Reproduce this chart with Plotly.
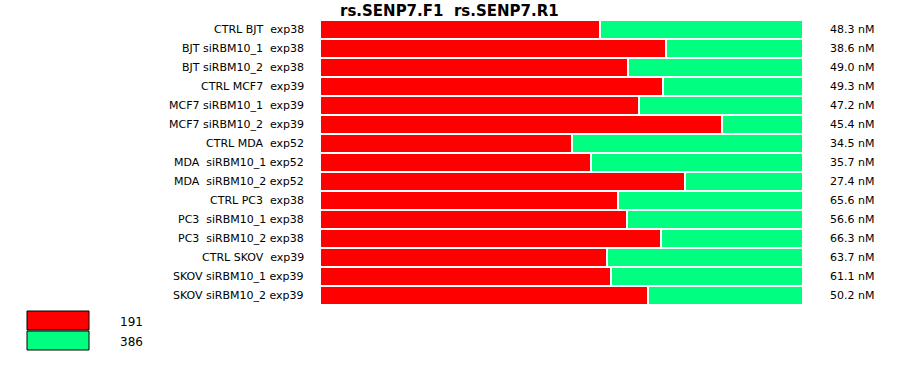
import plotly.graph_objects as go

# ---- data ----
categories = [
    "CTRL BJT  exp38",
    "BJT siRBM10_1  exp38",
    "BJT siRBM10_2  exp38",
    "CTRL MCF7  exp39",
    "MCF7 siRBM10_1  exp39",
    "MCF7 siRBM10_2  exp39",
    "CTRL MDA  exp52",
    "MDA  siRBM10_1 exp52",
    "MDA  siRBM10_2 exp52",
    "CTRL PC3  exp38",
    "PC3  siRBM10_1 exp38",
    "PC3  siRBM10_2 exp38",
    "CTRL SKOV  exp39",
    "SKOV siRBM10_1 exp39",
    "SKOV siRBM10_2 exp39",
]
red_values = [58.0, 71.7, 63.8, 71.1, 66.1, 83.2, 52.2, 56.1, 75.5, 61.7, 63.6, 70.5, 59.5, 60.3, 68.0]
green_values = [42.0, 28.3, 36.2, 28.9, 33.9, 16.8, 47.8, 43.9, 24.5, 38.3, 36.4, 29.5, 40.5, 39.7, 32.0]
concentrations = ["48.3 nM", "38.6 nM", "49.0 nM", "49.3 nM", "47.2 nM", "45.4 nM", "34.5 nM",
                  "35.7 nM", "27.4 nM", "65.6 nM", "56.6 nM", "66.3 nM", "63.7 nM", "61.1 nM", "50.2 nM"]
legend_labels = ["191", "386"]
title_text = "rs.SENP7.F1  rs.SENP7.R1"

RED = "#ff0000"
GREEN = "#00ff80"
FONT = "DejaVu Sans"

def nb(s):
    return s.replace(" ", "\u00a0")

ids = list(range(len(categories)))

fig = go.Figure()
fig.add_trace(go.Bar(y=ids, x=red_values, orientation="h", marker=dict(color=RED, line=dict(color="white", width=2)),
                     name=legend_labels[0], showlegend=False, hoverinfo="skip"))
fig.add_trace(go.Bar(y=ids, x=green_values, orientation="h", marker=dict(color=GREEN, line=dict(color="white", width=2)),
                     name=legend_labels[1], showlegend=False, hoverinfo="skip"))

L, R, T, B = 320, 97, 20, 70
W, H = 900, 375
pw = W - L - R
ph = H - T - B

annotations = []
for i, (c, v) in enumerate(zip(categories, concentrations)):
    annotations.append(dict(x=0, xref="paper", y=i, yref="y", text=nb(c), showarrow=False,
                            xanchor="right", yanchor="middle", xshift=-14,
                            font=dict(family=FONT, size=11, color="#000")))
    annotations.append(dict(x=1, xref="paper", y=i, yref="y", text=nb(v), showarrow=False,
                            xanchor="left", yanchor="middle", xshift=25,
                            font=dict(family=FONT, size=11, color="#000")))

def px2x(px):
    return (px - L) / pw

def px2y(py):
    return (H - B - py) / ph

shapes = []
legend_colors = [RED, GREEN]
box_y = [(311, 330), (331, 350)]
for col, (y0, y1), lab in zip(legend_colors, box_y, legend_labels):
    shapes.append(dict(type="rect", xref="paper", yref="paper", x0=px2x(27), x1=px2x(89),
                       y0=px2y(y1), y1=px2y(y0), fillcolor=col, line=dict(color="black", width=1)))
    annotations.append(dict(x=px2x(118), xref="paper", y=px2y((y0 + y1) / 2 + 1), yref="paper", text=lab,
                            showarrow=False, xanchor="left", yanchor="middle",
                            font=dict(family=FONT, size=12, color="#000")))

# title as annotation
annotations.append(dict(x=px2x(449), xref="paper", y=px2y(11), yref="paper",
                        text="<b>" + nb(title_text) + "</b>", showarrow=False,
                        xanchor="center", yanchor="middle",
                        font=dict(family=FONT, size=15, color="#000")))

fig.update_layout(
    width=W, height=H,
    margin=dict(l=L, r=R, t=T, b=B, pad=0),
    barmode="stack", bargap=0,
    plot_bgcolor="white", paper_bgcolor="white",
    xaxis=dict(range=[0, 100], visible=False, fixedrange=True),
    yaxis=dict(range=[len(categories) - 0.5, -0.5], visible=False, fixedrange=True),
    annotations=annotations,
    shapes=shapes,
)

fig.write_html("out.html")
